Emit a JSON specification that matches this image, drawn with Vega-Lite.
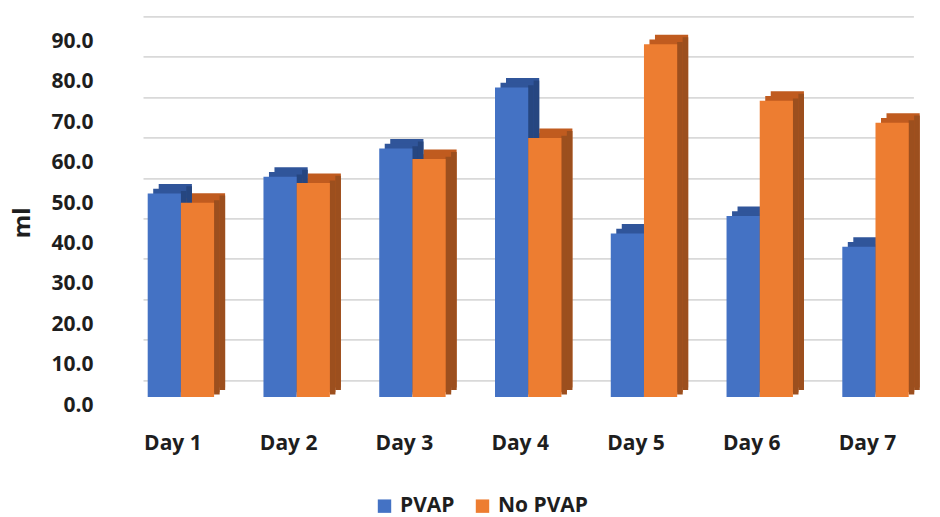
{
  "$schema": "https://vega.github.io/schema/vega-lite/v6.json",
  "width": 770.4,
  "height": 363.6,
  "autosize": {"type": "none"},
  "padding": {"left": 143, "top": 33.4, "right": 26.6, "bottom": 120},
  "background": "white",
  "config": {
    "view": {"stroke": null},
    "font": "Open Sans"
  },
  "data": {
    "values": [
      {"day": "Day 1", "group": "PVAP", "value": 50.4},
      {"day": "Day 1", "group": "No PVAP", "value": 48.1},
      {"day": "Day 2", "group": "PVAP", "value": 54.5},
      {"day": "Day 2", "group": "No PVAP", "value": 53.0},
      {"day": "Day 3", "group": "PVAP", "value": 61.5},
      {"day": "Day 3", "group": "No PVAP", "value": 58.9},
      {"day": "Day 4", "group": "PVAP", "value": 76.6},
      {"day": "Day 4", "group": "No PVAP", "value": 64.1},
      {"day": "Day 5", "group": "PVAP", "value": 40.5},
      {"day": "Day 5", "group": "No PVAP", "value": 87.3},
      {"day": "Day 6", "group": "PVAP", "value": 44.8},
      {"day": "Day 6", "group": "No PVAP", "value": 73.3},
      {"day": "Day 7", "group": "PVAP", "value": 37.2},
      {"day": "Day 7", "group": "No PVAP", "value": 67.9}
    ]
  },
  "encoding": {
    "x": {
      "field": "day",
      "type": "nominal",
      "sort": null,
      "scale": {"paddingInner": 0.4265, "paddingOuter": 0.0406},
      "axis": {
        "title": null,
        "labelAngle": 0,
        "domain": false,
        "ticks": false,
        "tickSize": 0,
        "labelFont": "Open Sans",
        "labelFontSize": 21,
        "labelFontWeight": "bold",
        "labelColor": "#1e1e1e",
        "labelBaseline": "alphabetic",
        "labelPadding": 52,
        "labelOffset": -8
      }
    },
    "y": {
      "field": "value",
      "type": "quantitative",
      "scale": {"domain": [0, 90], "nice": false},
      "axis": {
        "title": "ml",
        "values": [0, 10, 20, 30, 40, 50, 60, 70, 80, 90],
        "format": ".1f",
        "domain": false,
        "ticks": false,
        "tickSize": 0,
        "grid": true,
        "gridColor": "#d9d9d9",
        "gridWidth": 1.6,
        "tickOffset": -17,
        "labelOffset": 25,
        "labelPadding": 50,
        "labelFont": "Open Sans",
        "labelFontSize": 21,
        "labelFontWeight": "bold",
        "labelColor": "#1e1e1e",
        "labelBaseline": "middle",
        "titleFont": "Open Sans",
        "titleFontSize": 24,
        "titleFontWeight": "bold",
        "titleColor": "#1e1e1e",
        "titleAngle": -90,
        "titleAlign": "center",
        "titleBaseline": "middle",
        "titleX": -121,
        "titleY": 189
      }
    }
  },
  "resolve": {"scale": {"xOffset": "independent"}},
  "layer": [
    {
      "mark": {
        "type": "bar",
        "yOffset": -9.5,
        "fill": {"expr": "datum.group === 'PVAP' ? '#30559a' : '#c05b1f'"}
      },
      "encoding": {
        "xOffset": {
          "field": "group",
          "type": "nominal",
          "sort": ["PVAP", "No PVAP"],
          "scale": {"paddingInner": 0, "paddingOuter": 0, "range": [11, 77.4]}
        }
      }
    },
    {
      "mark": {
        "type": "bar",
        "yOffset": -4.75,
        "fill": {"expr": "datum.group === 'PVAP' ? '#30559a' : '#c05b1f'"}
      },
      "encoding": {
        "xOffset": {
          "field": "group",
          "type": "nominal",
          "sort": ["PVAP", "No PVAP"],
          "scale": {"paddingInner": 0, "paddingOuter": 0, "range": [5.5, 71.9]}
        }
      }
    },
    {
      "mark": {
        "type": "bar",
        "width": 5.6,
        "yOffset": -2.4,
        "fill": {"expr": "datum.group === 'PVAP' ? '#264680' : '#9c4f1e'"}
      },
      "encoding": {
        "xOffset": {
          "field": "group",
          "type": "nominal",
          "sort": ["PVAP", "No PVAP"],
          "scale": {"paddingInner": 0, "paddingOuter": 0, "range": [19.35, 85.75]}
        }
      }
    },
    {
      "mark": {
        "type": "bar",
        "width": 5.6,
        "yOffset": -7.1,
        "fill": {"expr": "datum.group === 'PVAP' ? '#264680' : '#9c4f1e'"}
      },
      "encoding": {
        "xOffset": {
          "field": "group",
          "type": "nominal",
          "sort": ["PVAP", "No PVAP"],
          "scale": {"paddingInner": 0, "paddingOuter": 0, "range": [24.85, 91.25]}
        }
      }
    },
    {
      "mark": {"type": "bar"},
      "encoding": {
        "xOffset": {
          "field": "group",
          "type": "nominal",
          "sort": ["PVAP", "No PVAP"],
          "scale": {"paddingInner": 0, "paddingOuter": 0}
        },
        "color": {
          "field": "group",
          "type": "nominal",
          "sort": ["PVAP", "No PVAP"],
          "scale": {"domain": ["PVAP", "No PVAP"], "range": ["#4472c4", "#ed7d31"]},
          "legend": {
            "title": null,
            "orient": "none",
            "direction": "horizontal",
            "legendX": 231,
            "legendY": 462,
            "symbolType": "square",
            "symbolSize": 180,
            "symbolStrokeWidth": 0,
            "labelFont": "Open Sans",
            "labelFontSize": 21,
            "labelFontWeight": "bold",
            "labelColor": "#1e1e1e",
            "labelOffset": 5,
            "columnPadding": 17
          }
        }
      }
    }
  ]
}
